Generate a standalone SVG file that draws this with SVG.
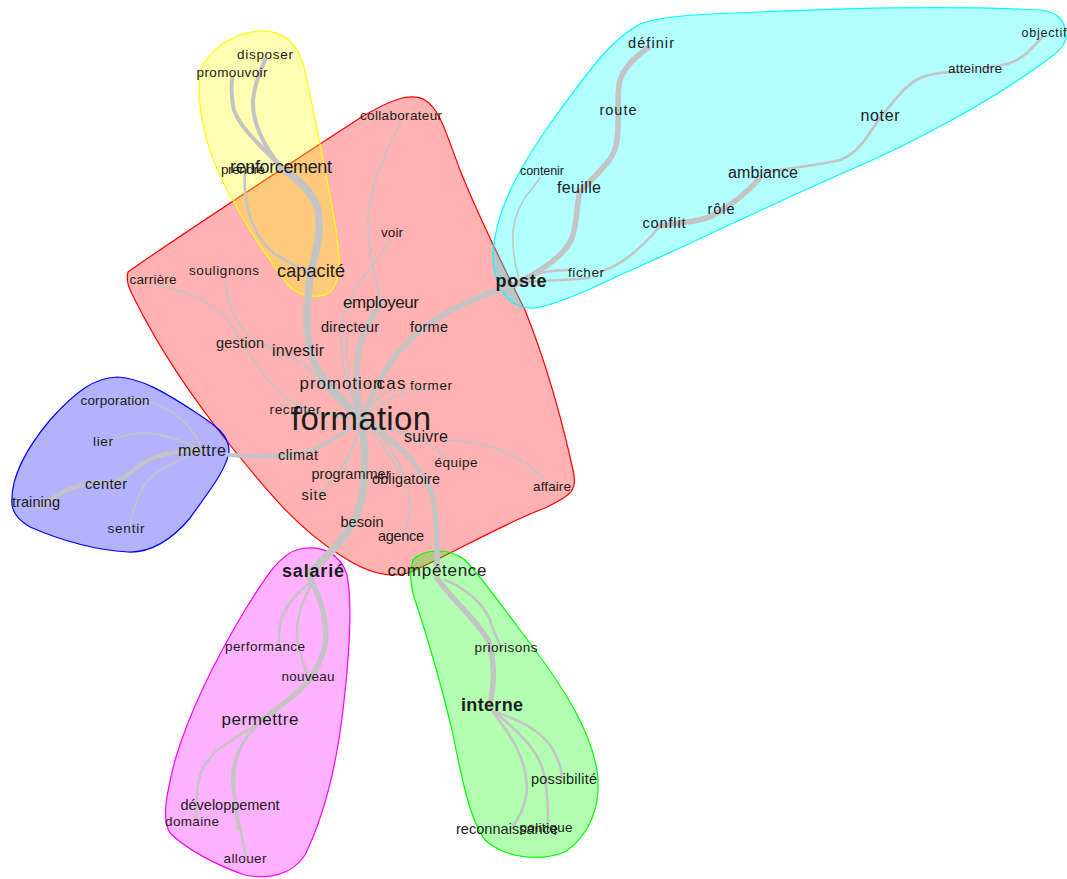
<svg xmlns="http://www.w3.org/2000/svg" width="1067" height="879" viewBox="0 0 1067 879">
  <style>
    .hull { stroke-width: 1.2; stroke-linejoin: round; }
    .e { fill: none; stroke: #c4c4c4; stroke-linecap: round; stroke-linejoin: round; }
    .w1 { stroke-width: 1.6; }
    .w2 { stroke-width: 2.6; }
    .w3 { stroke-width: 4; }
    .w4 { stroke-width: 5.5; }
    .w5 { stroke-width: 7.5; }
    text { font-family: "Liberation Sans", Arial, sans-serif; fill: #1c1c1c; text-anchor: middle; }
    .s11 { font-size: 12.5px; }
    .s12 { font-size: 13.5px; }
    .s13 { font-size: 14.5px; }
    .s14 { font-size: 16px; }
    .s15 { font-size: 17px; }
    .s16 { font-size: 18px; }
    .hb { font-weight: bold; }
    .big { font-size: 33px; }
  </style>

  <!-- community hulls -->
  <g id="hulls">
    <path class="hull" fill="#ff0000" fill-opacity="0.3" stroke="#ff0000" d="M128,272 C180,235 280,170 360,118 C390,100 410,92 425,100 C440,110 445,130 460,170 C480,220 505,270 525,310 C545,360 562,420 573,470 C578,490 572,495 545,508 C500,525 450,555 415,570 C395,580 370,575 340,555 C300,530 270,495 230,445 C190,395 160,350 135,300 C128,287 126,280 128,272 Z"/>
    <path class="hull" fill="#ffff00" fill-opacity="0.3" stroke="#ffff00" d="M200,72 C208,50 230,34 260,31 C285,30 300,45 306,75 C315,120 328,180 336,230 C340,260 342,280 330,292 C318,300 300,297 288,285 C265,255 240,215 222,180 C205,145 196,105 200,72 Z"/>
    <path class="hull" fill="#00ffff" fill-opacity="0.3" stroke="#00ffff" d="M493,255 C495,210 520,165 560,110 C590,70 610,40 640,24 C660,16 700,14 760,12 C850,8 960,6 1040,10 C1058,12 1066,20 1066,38 C1064,50 1050,58 1030,72 C990,100 920,140 850,170 C780,200 700,240 620,275 C585,292 555,305 535,308 C510,310 494,290 493,255 Z"/>
    <path class="hull" fill="#0000ff" fill-opacity="0.3" stroke="#0000ff" d="M12,505 C10,480 25,450 50,420 C75,392 95,377 118,377 C140,378 165,392 195,412 C215,425 230,435 229,452 C226,470 210,490 190,518 C172,540 150,553 128,552 C95,550 60,540 30,527 C18,520 13,513 12,505 Z"/>
    <path class="hull" fill="#ff00ff" fill-opacity="0.3" stroke="#ff00ff" d="M300,549 C320,545 340,552 347,575 C352,600 350,650 343,710 C336,770 322,820 305,855 C292,875 268,880 245,875 C215,865 185,848 170,833 C162,820 165,800 175,760 C190,710 215,660 245,610 C265,578 280,553 300,549 Z"/>
    <path class="hull" fill="#00ff00" fill-opacity="0.3" stroke="#00ff00" d="M413,560 C425,548 450,548 465,560 C480,575 505,610 535,650 C565,690 590,730 597,770 C602,805 590,835 565,852 C540,862 505,858 485,840 C470,820 462,780 452,730 C440,680 425,630 415,600 C410,585 410,570 413,560 Z"/>
  </g>

  <!-- connectors -->
  <g id="edges">
    <!-- central hub: formation -->
    <path class="e w5" d="M362,420 C340,400 318,380 310,350 C304,320 308,300 310,275"/>
    <path class="e w5" d="M310,275 C315,255 322,235 318,210 C312,190 298,180 282,168"/>
    <path class="e w3" d="M282,168 C260,145 240,128 234,110 C230,95 232,85 232,78"/>
    <path class="e w3" d="M282,168 C262,145 252,120 253,100 C255,80 262,68 265,60"/>
    <path class="e w2" d="M245,172 C243,200 250,230 270,250 C285,262 300,268 310,272"/>
    <path class="e w4" d="M362,420 C356,395 355,365 360,345 C366,325 375,312 382,302"/>
    <path class="e w1" d="M382,302 C375,280 368,250 368,220 C370,180 390,145 402,120"/>
    <path class="e w1" d="M392,240 C375,262 355,285 345,310 C338,340 340,380 362,420"/>
    <path class="e w1" d="M362,420 C350,395 345,360 347,335"/>
    <path class="e w4" d="M362,420 C372,395 385,365 405,345 C430,318 465,300 520,283"/>
    <path class="e w1" d="M362,420 C370,402 385,392 395,388"/>
    <path class="e w1" d="M362,420 C380,400 405,390 430,390"/>
    <path class="e w1" d="M362,420 C340,405 322,385 300,360"/>
    <path class="e w1" d="M225,282 C228,305 238,330 255,340 C275,352 300,360 322,375 C340,390 352,405 362,420"/>
    <path class="e w1" d="M155,285 C185,290 210,300 228,320 C245,345 260,375 285,398 C310,412 340,418 362,420"/>
    <path class="e w1" d="M362,420 C345,415 320,412 298,410"/>
    <path class="e w3" d="M362,420 C340,435 320,450 295,455 C270,458 245,456 228,455"/>
    <path class="e w1" d="M362,420 C355,440 348,460 345,470"/>
    <path class="e w1" d="M362,420 C355,450 340,475 318,495"/>
    <path class="e w5" d="M362,420 C366,455 368,495 352,525 C340,545 322,560 308,575"/>
    <path class="e w1" d="M362,420 C380,440 395,460 402,480"/>
    <path class="e w1" d="M362,420 C392,440 408,475 410,505 C410,520 406,530 404,535"/>
    <path class="e w4" d="M362,420 C395,440 422,465 432,495 C438,520 437,550 437,570"/>
    <path class="e w1" d="M362,420 C385,428 405,434 425,440"/>
    <path class="e w1" d="M362,420 C395,430 430,440 452,462"/>
    <path class="e w1" d="M440,440 C470,440 500,447 520,460 C535,470 545,478 550,486"/>

    <!-- mettre group -->
    <path class="e w1" d="M202,450 C195,430 180,412 150,402 C135,398 125,400 118,400"/>
    <path class="e w1" d="M202,450 C180,440 160,432 140,433 C125,434 112,440 108,442"/>
    <path class="e w3" d="M202,450 C175,450 155,455 140,465 C128,475 118,482 110,485"/>
    <path class="e w3" d="M106,482 C85,482 70,487 55,497 C48,502 42,505 38,507"/>
    <path class="e w1" d="M202,450 C180,460 160,468 148,480 C136,495 132,515 130,525"/>

    <!-- poste group -->
    <path class="e w4" d="M520,282 C545,268 565,255 572,238 C578,220 576,205 580,192"/>
    <path class="e w4" d="M580,192 C600,170 615,160 617,140 C620,115 616,95 620,80 C625,65 638,55 648,48"/>
    <path class="e w1" d="M520,282 C514,262 510,240 515,220 C520,200 532,190 540,178"/>
    <path class="e w2" d="M520,282 C545,281 565,280 590,278"/>
    <path class="e w2" d="M530,277 C540,272 550,270 568,270"/>
    <path class="e w2" d="M600,272 C620,266 640,250 660,226"/>
    <path class="e w4" d="M660,226 C680,222 700,222 712,216 C730,206 745,195 760,178"/>
    <path class="e w2" d="M765,172 C790,168 820,165 840,160 C860,152 868,135 880,118"/>
    <path class="e w2" d="M880,118 C895,100 905,85 920,78 C935,72 950,72 962,72"/>
    <path class="e w2" d="M985,68 C1010,65 1020,60 1028,52 C1035,45 1040,40 1043,36"/>

    <!-- salarié group -->
    <path class="e w4" d="M310,578 C322,600 328,625 325,645 C322,660 315,672 308,682"/>
    <path class="e w4" d="M308,682 C295,696 278,708 262,720"/>
    <path class="e w2" d="M310,582 C295,595 283,608 280,625 C278,635 279,642 280,648"/>
    <path class="e w2" d="M312,583 C300,605 294,625 298,645 C302,660 306,670 308,678"/>
    <path class="e w2" d="M258,724 C230,740 210,752 202,770 C196,785 196,805 196,820"/>
    <path class="e w2" d="M258,724 C240,742 232,760 232,780 C233,800 240,825 246,857"/>
    <path class="e w2" d="M256,726 C242,740 236,755 234,775 C234,795 236,815 238,830"/>

    <!-- compétence group -->
    <path class="e w4" d="M437,578 C452,600 475,618 488,640 C495,660 494,685 490,705"/>
    <path class="e w2" d="M445,580 C465,588 482,602 490,620 C495,635 500,645 502,650"/>
    <path class="e w2" d="M495,712 C520,720 540,730 552,748 C560,762 562,770 562,778"/>
    <path class="e w2" d="M495,712 C515,730 535,745 543,770 C548,790 548,810 548,825"/>
    <path class="e w2" d="M493,712 C510,735 525,755 527,785 C527,805 518,820 510,830"/>
  </g>

  <!-- word nodes (textLength pins each label's printed width) -->
  <g id="n-disposer"><text class="s12" x="265" y="59" textLength="56" lengthAdjust="spacing">disposer</text></g>
  <g id="n-promouvoir"><text class="s12" x="232" y="77" textLength="71" lengthAdjust="spacing">promouvoir</text></g>
  <g id="n-prendre"><text class="s12" x="243" y="174" textLength="44" lengthAdjust="spacing">prendre</text></g>
  <g id="n-renforcement"><text class="s16" x="281" y="173" textLength="102" lengthAdjust="spacing">renforcement</text></g>
  <g id="n-capacite"><text class="s16" x="311" y="277" textLength="68" lengthAdjust="spacing">capacité</text></g>
  <g id="n-collaborateur"><text class="s12" x="401" y="120" textLength="82" lengthAdjust="spacing">collaborateur</text></g>
  <g id="n-voir"><text class="s12" x="392" y="237" textLength="22" lengthAdjust="spacing">voir</text></g>
  <g id="n-soulignons"><text class="s12" x="224" y="275" textLength="70" lengthAdjust="spacing">soulignons</text></g>
  <g id="n-carriere"><text class="s12" x="153" y="284" textLength="47" lengthAdjust="spacing">carrière</text></g>
  <g id="n-employeur"><text class="s15" x="381" y="308" textLength="76" lengthAdjust="spacing">employeur</text></g>
  <g id="n-directeur"><text class="s13" x="350" y="332" textLength="58" lengthAdjust="spacing">directeur</text></g>
  <g id="n-forme"><text class="s13" x="429" y="332" textLength="38" lengthAdjust="spacing">forme</text></g>
  <g id="n-gestion"><text class="s13" x="240" y="348" textLength="48" lengthAdjust="spacing">gestion</text></g>
  <g id="n-investir"><text class="s14" x="298" y="356" textLength="52" lengthAdjust="spacing">investir</text></g>
  <g id="n-promotion"><text class="s15" x="341" y="389" textLength="83" lengthAdjust="spacing">promotion</text></g>
  <g id="n-cas"><text class="s15" x="391" y="389" textLength="29" lengthAdjust="spacing">cas</text></g>
  <g id="n-former"><text class="s12" x="431" y="390" textLength="42" lengthAdjust="spacing">former</text></g>
  <g id="n-recruter"><text class="s12" x="295" y="414" textLength="51" lengthAdjust="spacing">recruter</text></g>
  <g id="n-formation"><text class="big" x="361" y="430" textLength="140" lengthAdjust="spacing">formation</text></g>
  <g id="n-suivre"><text class="s14" x="426" y="442" textLength="44" lengthAdjust="spacing">suivre</text></g>
  <g id="n-climat"><text class="s13" x="298" y="460" textLength="40" lengthAdjust="spacing">climat</text></g>
  <g id="n-equipe"><text class="s12" x="456" y="467" textLength="43" lengthAdjust="spacing">équipe</text></g>
  <g id="n-programmer"><text class="s13" x="351" y="479" textLength="79" lengthAdjust="spacing">programmer</text></g>
  <g id="n-obligatoire"><text class="s13" x="406" y="484" textLength="68" lengthAdjust="spacing">obligatoire</text></g>
  <g id="n-affaire"><text class="s12" x="552" y="491" textLength="38" lengthAdjust="spacing">affaire</text></g>
  <g id="n-site"><text class="s13" x="314" y="500" textLength="25" lengthAdjust="spacing">site</text></g>
  <g id="n-besoin"><text class="s13" x="362" y="527" textLength="43" lengthAdjust="spacing">besoin</text></g>
  <g id="n-agence"><text class="s13" x="401" y="541" textLength="46" lengthAdjust="spacing">agence</text></g>

  <g id="n-mettre"><text class="s14" x="202" y="456" textLength="48" lengthAdjust="spacing">mettre</text></g>
  <g id="n-corporation"><text class="s12" x="115" y="405" textLength="69" lengthAdjust="spacing">corporation</text></g>
  <g id="n-lier"><text class="s12" x="103" y="446" textLength="20" lengthAdjust="spacing">lier</text></g>
  <g id="n-center"><text class="s13" x="106" y="489" textLength="42" lengthAdjust="spacing">center</text></g>
  <g id="n-training"><text class="s13" x="36" y="507" textLength="48" lengthAdjust="spacing">training</text></g>
  <g id="n-sentir"><text class="s12" x="126" y="533" textLength="37" lengthAdjust="spacing">sentir</text></g>

  <g id="n-poste"><text class="s16 hb" x="521" y="287" textLength="51" lengthAdjust="spacing">poste</text></g>
  <g id="n-definir"><text class="s13" x="651" y="48" textLength="46" lengthAdjust="spacing">définir</text></g>
  <g id="n-route"><text class="s13" x="618" y="115" textLength="37" lengthAdjust="spacing">route</text></g>
  <g id="n-contenir"><text class="s11" x="542" y="175" textLength="44" lengthAdjust="spacing">contenir</text></g>
  <g id="n-feuille"><text class="s14" x="579" y="193" textLength="44" lengthAdjust="spacing">feuille</text></g>
  <g id="n-ambiance"><text class="s14" x="763" y="178" textLength="70" lengthAdjust="spacing">ambiance</text></g>
  <g id="n-role"><text class="s13" x="721" y="214" textLength="27" lengthAdjust="spacing">rôle</text></g>
  <g id="n-conflit"><text class="s13" x="664" y="228" textLength="43" lengthAdjust="spacing">conflit</text></g>
  <g id="n-ficher"><text class="s12" x="586" y="277" textLength="36" lengthAdjust="spacing">ficher</text></g>
  <g id="n-noter"><text class="s14" x="880" y="121" textLength="39" lengthAdjust="spacing">noter</text></g>
  <g id="n-atteindre"><text class="s12" x="975" y="73" textLength="54" lengthAdjust="spacing">atteindre</text></g>
  <g id="n-objectif"><text class="s11" x="1044" y="37" textLength="45" lengthAdjust="spacing">objectif</text></g>

  <g id="n-salarie"><text class="s16 hb" x="313" y="577" textLength="62" lengthAdjust="spacing">salarié</text></g>
  <g id="n-performance"><text class="s12" x="265" y="651" textLength="80" lengthAdjust="spacing">performance</text></g>
  <g id="n-nouveau"><text class="s12" x="308" y="681" textLength="53" lengthAdjust="spacing">nouveau</text></g>
  <g id="n-permettre"><text class="s15" x="260" y="725" textLength="77" lengthAdjust="spacing">permettre</text></g>
  <g id="n-developpement"><text class="s13" x="230" y="810" textLength="99" lengthAdjust="spacing">développement</text></g>
  <g id="n-domaine"><text class="s12" x="192" y="826" textLength="54" lengthAdjust="spacing">domaine</text></g>
  <g id="n-allouer"><text class="s12" x="245" y="863" textLength="43" lengthAdjust="spacing">allouer</text></g>

  <g id="n-competence"><text class="s15" x="437" y="576" textLength="99" lengthAdjust="spacing">compétence</text></g>
  <g id="n-priorisons"><text class="s12" x="506" y="652" textLength="63" lengthAdjust="spacing">priorisons</text></g>
  <g id="n-interne"><text class="s16 hb" x="492" y="711" textLength="62" lengthAdjust="spacing">interne</text></g>
  <g id="n-possibilite"><text class="s13" x="564" y="784" textLength="66" lengthAdjust="spacing">possibilité</text></g>
  <g id="n-reconnaissance"><text class="s13" x="507" y="834" textLength="102" lengthAdjust="spacing">reconnaissance</text></g>
  <g id="n-politique"><text class="s12" x="546" y="832" textLength="53" lengthAdjust="spacing">politique</text></g>
</svg>
